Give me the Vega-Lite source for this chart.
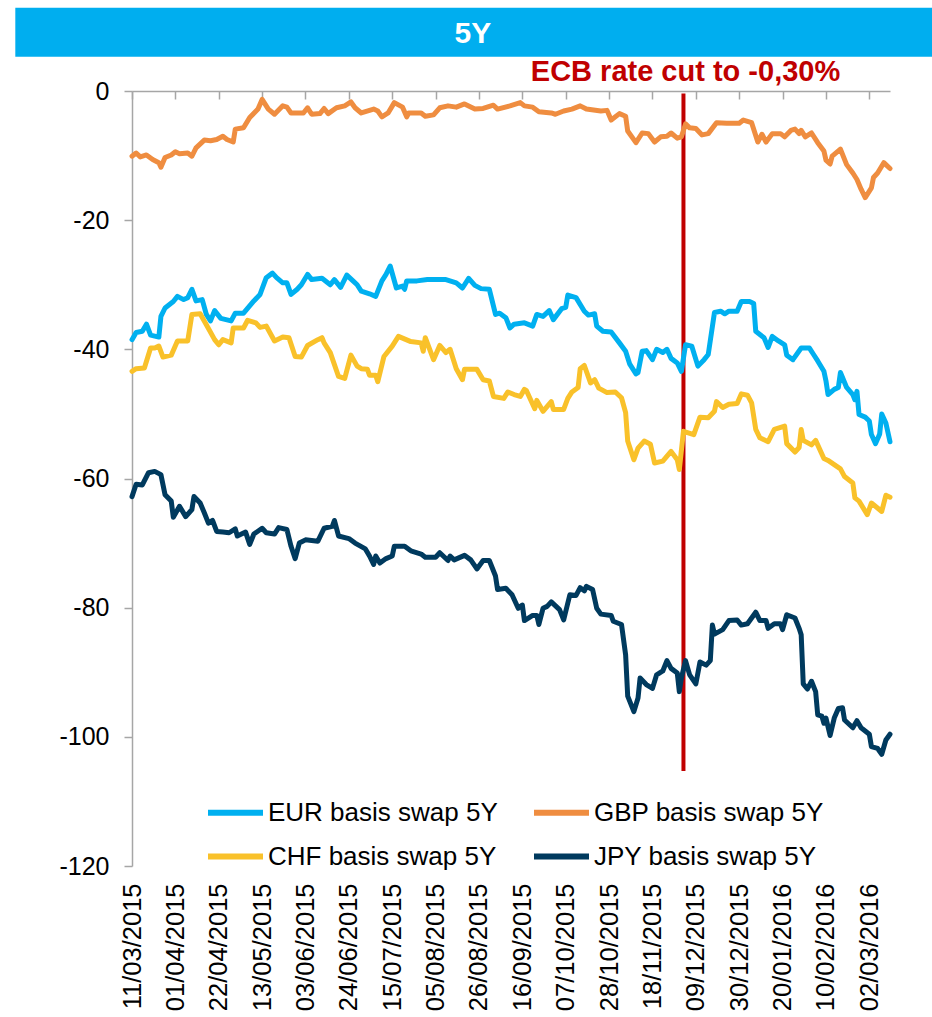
{
"$schema": "https://vega.github.io/schema/vega-lite/v6.json",
"width": 758,
"height": 775,
"padding": {"left": 15, "top": 7, "right": 0, "bottom": 0},
"background": "#ffffff",
"config": {"view": {"stroke": null}, "font": "Liberation Sans"},
"resolve": {"axis": {"x": "independent", "y": "independent"}},
"layer": [
{
"data": {"values": [{"band": "title"}]},
"mark": {"type": "rect", "color": "#00AEEF"},
"encoding": {
"x": {"datum": {"year": 2015, "month": 1, "date": 13, "hours": 12, "utc": true}, "type": "temporal", "axis": null},
"x2": {"datum": {"year": 2016, "month": 4, "date": 1, "hours": 12, "utc": true}},
"y": {"datum": 12.9, "type": "quantitative", "axis": null},
"y2": {"datum": 5.3}
}
},
{
"data": {"values": [{"label": "5Y"}]},
"mark": {"type": "text", "color": "#ffffff", "fontSize": 30, "fontWeight": "bold", "font": "Liberation Sans", "align": "center", "baseline": "middle"},
"encoding": {
"x": {"datum": {"year": 2015, "month": 8, "date": 23, "utc": true}, "type": "temporal", "axis": null},
"y": {"datum": 8.9, "type": "quantitative", "axis": null},
"text": {"field": "label"}
}
},
{
"data": {"values": [{"event": "ECB rate cut"}]},
"mark": {"type": "rule", "color": "#C00000", "strokeWidth": 4},
"encoding": {
"x": {"datum": {"year": 2015, "month": 12, "date": 3, "utc": true}, "type": "temporal",
"axis": {"orient": "top", "values": [{"year":2015,"month":3,"date":11,"utc":true},{"year":2015,"month":4,"date":1,"utc":true},{"year":2015,"month":4,"date":22,"utc":true},{"year":2015,"month":5,"date":13,"utc":true},{"year":2015,"month":6,"date":3,"utc":true},{"year":2015,"month":6,"date":24,"utc":true},{"year":2015,"month":7,"date":15,"utc":true},{"year":2015,"month":8,"date":5,"utc":true},{"year":2015,"month":8,"date":26,"utc":true},{"year":2015,"month":9,"date":16,"utc":true},{"year":2015,"month":10,"date":7,"utc":true},{"year":2015,"month":10,"date":28,"utc":true},{"year":2015,"month":11,"date":18,"utc":true},{"year":2015,"month":12,"date":9,"utc":true},{"year":2015,"month":12,"date":30,"utc":true},{"year":2016,"month":1,"date":20,"utc":true},{"year":2016,"month":2,"date":10,"utc":true},{"year":2016,"month":3,"date":2,"utc":true}],
"labels": false, "domain": true, "domainColor": "#A6A6A6", "domainWidth": 1.5, "ticks": true, "tickSize": -8, "tickColor": "#A6A6A6", "tickWidth": 1.5, "title": null, "grid": false}},
"y": {"datum": -0.4, "type": "quantitative", "axis": null},
"y2": {"datum": -105.3}
}
},
{
"data": {"values": [
{"date":"2015-03-11","series":"EUR","value":-38.5},{"date":"2015-03-13","series":"EUR","value":-37.4},{"date":"2015-03-16","series":"EUR","value":-37.2},{"date":"2015-03-18","series":"EUR","value":-36.1},{"date":"2015-03-20","series":"EUR","value":-37.8},{"date":"2015-03-24","series":"EUR","value":-38.1},{"date":"2015-03-25","series":"EUR","value":-34.9},{"date":"2015-03-27","series":"EUR","value":-33.6},{"date":"2015-03-31","series":"EUR","value":-32.6},{"date":"2015-04-02","series":"EUR","value":-31.8},{"date":"2015-04-05","series":"EUR","value":-32.3},{"date":"2015-04-07","series":"EUR","value":-32.0},{"date":"2015-04-09","series":"EUR","value":-30.7},{"date":"2015-04-11","series":"EUR","value":-32.5},{"date":"2015-04-14","series":"EUR","value":-32.3},{"date":"2015-04-16","series":"EUR","value":-34.6},{"date":"2015-04-18","series":"EUR","value":-35.6},{"date":"2015-04-20","series":"EUR","value":-34.0},{"date":"2015-04-23","series":"EUR","value":-35.2},{"date":"2015-04-28","series":"EUR","value":-35.6},{"date":"2015-04-30","series":"EUR","value":-34.4},{"date":"2015-05-04","series":"EUR","value":-34.4},{"date":"2015-05-09","series":"EUR","value":-32.5},{"date":"2015-05-12","series":"EUR","value":-31.5},{"date":"2015-05-15","series":"EUR","value":-28.9},{"date":"2015-05-18","series":"EUR","value":-28.2},{"date":"2015-05-20","series":"EUR","value":-28.9},{"date":"2015-05-23","series":"EUR","value":-29.7},{"date":"2015-05-25","series":"EUR","value":-29.7},{"date":"2015-05-27","series":"EUR","value":-31.5},{"date":"2015-05-30","series":"EUR","value":-30.7},{"date":"2015-06-01","series":"EUR","value":-30.0},{"date":"2015-06-04","series":"EUR","value":-28.4},{"date":"2015-06-06","series":"EUR","value":-29.2},{"date":"2015-06-11","series":"EUR","value":-29.0},{"date":"2015-06-15","series":"EUR","value":-30.0},{"date":"2015-06-17","series":"EUR","value":-29.2},{"date":"2015-06-20","series":"EUR","value":-30.4},{"date":"2015-06-23","series":"EUR","value":-28.5},{"date":"2015-06-26","series":"EUR","value":-29.4},{"date":"2015-06-28","series":"EUR","value":-30.0},{"date":"2015-06-30","series":"EUR","value":-31.0},{"date":"2015-07-04","series":"EUR","value":-31.4},{"date":"2015-07-07","series":"EUR","value":-31.8},{"date":"2015-07-10","series":"EUR","value":-29.4},{"date":"2015-07-12","series":"EUR","value":-28.4},{"date":"2015-07-14","series":"EUR","value":-27.1},{"date":"2015-07-17","series":"EUR","value":-30.5},{"date":"2015-07-20","series":"EUR","value":-30.2},{"date":"2015-07-21","series":"EUR","value":-30.7},{"date":"2015-07-22","series":"EUR","value":-29.4},{"date":"2015-07-27","series":"EUR","value":-29.4},{"date":"2015-08-01","series":"EUR","value":-29.2},{"date":"2015-08-10","series":"EUR","value":-29.2},{"date":"2015-08-15","series":"EUR","value":-29.7},{"date":"2015-08-18","series":"EUR","value":-30.5},{"date":"2015-08-21","series":"EUR","value":-29.0},{"date":"2015-08-24","series":"EUR","value":-30.1},{"date":"2015-08-27","series":"EUR","value":-30.6},{"date":"2015-08-31","series":"EUR","value":-30.7},{"date":"2015-09-01","series":"EUR","value":-32.0},{"date":"2015-09-03","series":"EUR","value":-34.6},{"date":"2015-09-05","series":"EUR","value":-34.4},{"date":"2015-09-08","series":"EUR","value":-35.1},{"date":"2015-09-10","series":"EUR","value":-36.7},{"date":"2015-09-12","series":"EUR","value":-36.1},{"date":"2015-09-17","series":"EUR","value":-35.9},{"date":"2015-09-21","series":"EUR","value":-36.4},{"date":"2015-09-23","series":"EUR","value":-34.6},{"date":"2015-09-26","series":"EUR","value":-34.9},{"date":"2015-09-29","series":"EUR","value":-34.0},{"date":"2015-10-01","series":"EUR","value":-35.4},{"date":"2015-10-05","series":"EUR","value":-33.7},{"date":"2015-10-07","series":"EUR","value":-33.5},{"date":"2015-10-08","series":"EUR","value":-31.6},{"date":"2015-10-12","series":"EUR","value":-32.0},{"date":"2015-10-16","series":"EUR","value":-34.1},{"date":"2015-10-18","series":"EUR","value":-34.7},{"date":"2015-10-21","series":"EUR","value":-34.5},{"date":"2015-10-22","series":"EUR","value":-36.4},{"date":"2015-10-25","series":"EUR","value":-37.2},{"date":"2015-10-29","series":"EUR","value":-37.3},{"date":"2015-11-02","series":"EUR","value":-39.0},{"date":"2015-11-05","series":"EUR","value":-40.3},{"date":"2015-11-07","series":"EUR","value":-42.3},{"date":"2015-11-10","series":"EUR","value":-43.8},{"date":"2015-11-11","series":"EUR","value":-43.6},{"date":"2015-11-13","series":"EUR","value":-40.3},{"date":"2015-11-15","series":"EUR","value":-40.2},{"date":"2015-11-18","series":"EUR","value":-41.6},{"date":"2015-11-20","series":"EUR","value":-40.0},{"date":"2015-11-23","series":"EUR","value":-40.5},{"date":"2015-11-25","series":"EUR","value":-40.0},{"date":"2015-11-27","series":"EUR","value":-41.4},{"date":"2015-11-30","series":"EUR","value":-42.1},{"date":"2015-12-02","series":"EUR","value":-43.4},{"date":"2015-12-04","series":"EUR","value":-39.3},{"date":"2015-12-07","series":"EUR","value":-39.5},{"date":"2015-12-10","series":"EUR","value":-42.6},{"date":"2015-12-13","series":"EUR","value":-41.6},{"date":"2015-12-15","series":"EUR","value":-40.8},{"date":"2015-12-18","series":"EUR","value":-34.3},{"date":"2015-12-21","series":"EUR","value":-34.1},{"date":"2015-12-23","series":"EUR","value":-34.5},{"date":"2015-12-25","series":"EUR","value":-34.1},{"date":"2015-12-29","series":"EUR","value":-34.1},{"date":"2015-12-31","series":"EUR","value":-32.6},{"date":"2016-01-04","series":"EUR","value":-32.6},{"date":"2016-01-06","series":"EUR","value":-32.9},{"date":"2016-01-07","series":"EUR","value":-37.2},{"date":"2016-01-11","series":"EUR","value":-38.2},{"date":"2016-01-13","series":"EUR","value":-39.7},{"date":"2016-01-15","series":"EUR","value":-38.0},{"date":"2016-01-18","series":"EUR","value":-38.7},{"date":"2016-01-21","series":"EUR","value":-39.3},{"date":"2016-01-22","series":"EUR","value":-40.9},{"date":"2016-01-25","series":"EUR","value":-41.6},{"date":"2016-01-29","series":"EUR","value":-39.8},{"date":"2016-02-02","series":"EUR","value":-39.8},{"date":"2016-02-04","series":"EUR","value":-40.8},{"date":"2016-02-06","series":"EUR","value":-41.8},{"date":"2016-02-09","series":"EUR","value":-43.4},{"date":"2016-02-10","series":"EUR","value":-44.9},{"date":"2016-02-11","series":"EUR","value":-47.0},{"date":"2016-02-14","series":"EUR","value":-46.2},{"date":"2016-02-16","series":"EUR","value":-45.9},{"date":"2016-02-17","series":"EUR","value":-43.6},{"date":"2016-02-20","series":"EUR","value":-45.9},{"date":"2016-02-23","series":"EUR","value":-47.0},{"date":"2016-02-24","series":"EUR","value":-47.8},{"date":"2016-02-25","series":"EUR","value":-46.5},{"date":"2016-02-26","series":"EUR","value":-50.1},{"date":"2016-02-29","series":"EUR","value":-50.5},{"date":"2016-03-02","series":"EUR","value":-51.1},{"date":"2016-03-03","series":"EUR","value":-53.2},{"date":"2016-03-05","series":"EUR","value":-54.6},{"date":"2016-03-07","series":"EUR","value":-53.1},{"date":"2016-03-08","series":"EUR","value":-50.0},{"date":"2016-03-10","series":"EUR","value":-51.4},{"date":"2016-03-12","series":"EUR","value":-54.3},
{"date":"2015-03-11","series":"GBP","value":-10.1},{"date":"2015-03-13","series":"GBP","value":-9.6},{"date":"2015-03-15","series":"GBP","value":-10.2},{"date":"2015-03-18","series":"GBP","value":-9.9},{"date":"2015-03-21","series":"GBP","value":-10.6},{"date":"2015-03-24","series":"GBP","value":-11.1},{"date":"2015-03-25","series":"GBP","value":-11.8},{"date":"2015-03-27","series":"GBP","value":-10.3},{"date":"2015-03-30","series":"GBP","value":-9.9},{"date":"2015-04-01","series":"GBP","value":-9.4},{"date":"2015-04-03","series":"GBP","value":-9.7},{"date":"2015-04-07","series":"GBP","value":-9.6},{"date":"2015-04-09","series":"GBP","value":-10.1},{"date":"2015-04-11","series":"GBP","value":-8.8},{"date":"2015-04-15","series":"GBP","value":-7.6},{"date":"2015-04-18","series":"GBP","value":-7.7},{"date":"2015-04-21","series":"GBP","value":-7.5},{"date":"2015-04-24","series":"GBP","value":-7.0},{"date":"2015-04-26","series":"GBP","value":-7.5},{"date":"2015-04-29","series":"GBP","value":-7.9},{"date":"2015-04-30","series":"GBP","value":-5.9},{"date":"2015-05-04","series":"GBP","value":-5.7},{"date":"2015-05-07","series":"GBP","value":-4.1},{"date":"2015-05-11","series":"GBP","value":-2.8},{"date":"2015-05-13","series":"GBP","value":-1.3},{"date":"2015-05-16","series":"GBP","value":-2.8},{"date":"2015-05-19","series":"GBP","value":-3.6},{"date":"2015-05-23","series":"GBP","value":-2.3},{"date":"2015-05-25","series":"GBP","value":-2.5},{"date":"2015-05-27","series":"GBP","value":-3.4},{"date":"2015-06-02","series":"GBP","value":-3.4},{"date":"2015-06-04","series":"GBP","value":-2.6},{"date":"2015-06-06","series":"GBP","value":-3.6},{"date":"2015-06-10","series":"GBP","value":-3.5},{"date":"2015-06-12","series":"GBP","value":-2.7},{"date":"2015-06-14","series":"GBP","value":-3.5},{"date":"2015-06-18","series":"GBP","value":-2.6},{"date":"2015-06-22","series":"GBP","value":-2.3},{"date":"2015-06-25","series":"GBP","value":-1.7},{"date":"2015-06-27","series":"GBP","value":-2.6},{"date":"2015-06-30","series":"GBP","value":-3.4},{"date":"2015-07-06","series":"GBP","value":-2.8},{"date":"2015-07-08","series":"GBP","value":-3.1},{"date":"2015-07-10","series":"GBP","value":-4.0},{"date":"2015-07-13","series":"GBP","value":-3.4},{"date":"2015-07-16","series":"GBP","value":-1.8},{"date":"2015-07-20","series":"GBP","value":-2.5},{"date":"2015-07-22","series":"GBP","value":-4.0},{"date":"2015-07-23","series":"GBP","value":-3.4},{"date":"2015-07-29","series":"GBP","value":-3.4},{"date":"2015-07-31","series":"GBP","value":-3.9},{"date":"2015-08-04","series":"GBP","value":-3.7},{"date":"2015-08-07","series":"GBP","value":-2.6},{"date":"2015-08-11","series":"GBP","value":-2.3},{"date":"2015-08-15","series":"GBP","value":-2.5},{"date":"2015-08-19","series":"GBP","value":-2.0},{"date":"2015-08-24","series":"GBP","value":-2.8},{"date":"2015-08-28","series":"GBP","value":-2.7},{"date":"2015-09-02","series":"GBP","value":-2.2},{"date":"2015-09-04","series":"GBP","value":-2.8},{"date":"2015-09-10","series":"GBP","value":-2.3},{"date":"2015-09-15","series":"GBP","value":-1.8},{"date":"2015-09-17","series":"GBP","value":-2.3},{"date":"2015-09-21","series":"GBP","value":-2.5},{"date":"2015-09-24","series":"GBP","value":-3.2},{"date":"2015-09-30","series":"GBP","value":-3.4},{"date":"2015-10-02","series":"GBP","value":-3.6},{"date":"2015-10-06","series":"GBP","value":-3.1},{"date":"2015-10-10","series":"GBP","value":-2.8},{"date":"2015-10-14","series":"GBP","value":-2.3},{"date":"2015-10-17","series":"GBP","value":-2.8},{"date":"2015-10-24","series":"GBP","value":-3.1},{"date":"2015-10-27","series":"GBP","value":-3.0},{"date":"2015-10-29","series":"GBP","value":-4.5},{"date":"2015-11-02","series":"GBP","value":-3.5},{"date":"2015-11-05","series":"GBP","value":-3.9},{"date":"2015-11-06","series":"GBP","value":-6.2},{"date":"2015-11-10","series":"GBP","value":-8.0},{"date":"2015-11-13","series":"GBP","value":-6.5},{"date":"2015-11-16","series":"GBP","value":-6.6},{"date":"2015-11-19","series":"GBP","value":-7.9},{"date":"2015-11-22","series":"GBP","value":-7.1},{"date":"2015-11-25","series":"GBP","value":-7.0},{"date":"2015-11-27","series":"GBP","value":-6.5},{"date":"2015-11-30","series":"GBP","value":-7.3},{"date":"2015-12-02","series":"GBP","value":-7.1},{"date":"2015-12-04","series":"GBP","value":-5.1},{"date":"2015-12-06","series":"GBP","value":-5.7},{"date":"2015-12-09","series":"GBP","value":-5.8},{"date":"2015-12-12","series":"GBP","value":-6.8},{"date":"2015-12-15","series":"GBP","value":-6.6},{"date":"2015-12-19","series":"GBP","value":-4.9},{"date":"2015-12-24","series":"GBP","value":-5.0},{"date":"2015-12-30","series":"GBP","value":-5.0},{"date":"2016-01-01","series":"GBP","value":-4.5},{"date":"2016-01-05","series":"GBP","value":-4.9},{"date":"2016-01-08","series":"GBP","value":-7.9},{"date":"2016-01-10","series":"GBP","value":-6.7},{"date":"2016-01-12","series":"GBP","value":-7.9},{"date":"2016-01-15","series":"GBP","value":-6.6},{"date":"2016-01-19","series":"GBP","value":-6.6},{"date":"2016-01-21","series":"GBP","value":-7.1},{"date":"2016-01-24","series":"GBP","value":-6.1},{"date":"2016-01-26","series":"GBP","value":-5.9},{"date":"2016-01-28","series":"GBP","value":-6.6},{"date":"2016-01-29","series":"GBP","value":-6.1},{"date":"2016-01-31","series":"GBP","value":-7.1},{"date":"2016-02-03","series":"GBP","value":-6.5},{"date":"2016-02-06","series":"GBP","value":-8.0},{"date":"2016-02-09","series":"GBP","value":-9.3},{"date":"2016-02-10","series":"GBP","value":-10.7},{"date":"2016-02-12","series":"GBP","value":-11.3},{"date":"2016-02-13","series":"GBP","value":-10.1},{"date":"2016-02-17","series":"GBP","value":-9.0},{"date":"2016-02-20","series":"GBP","value":-11.4},{"date":"2016-02-23","series":"GBP","value":-12.7},{"date":"2016-02-25","series":"GBP","value":-13.7},{"date":"2016-02-27","series":"GBP","value":-15.2},{"date":"2016-02-29","series":"GBP","value":-16.5},{"date":"2016-03-03","series":"GBP","value":-15.0},{"date":"2016-03-04","series":"GBP","value":-13.4},{"date":"2016-03-06","series":"GBP","value":-12.7},{"date":"2016-03-09","series":"GBP","value":-11.1},{"date":"2016-03-10","series":"GBP","value":-11.4},{"date":"2016-03-12","series":"GBP","value":-12.0},
{"date":"2015-03-11","series":"CHF","value":-43.4},{"date":"2015-03-13","series":"CHF","value":-43.0},{"date":"2015-03-17","series":"CHF","value":-42.9},{"date":"2015-03-20","series":"CHF","value":-39.8},{"date":"2015-03-22","series":"CHF","value":-39.8},{"date":"2015-03-24","series":"CHF","value":-39.5},{"date":"2015-03-26","series":"CHF","value":-41.2},{"date":"2015-03-30","series":"CHF","value":-40.9},{"date":"2015-04-02","series":"CHF","value":-38.7},{"date":"2015-04-07","series":"CHF","value":-38.7},{"date":"2015-04-09","series":"CHF","value":-34.6},{"date":"2015-04-13","series":"CHF","value":-34.5},{"date":"2015-04-16","series":"CHF","value":-36.2},{"date":"2015-04-20","series":"CHF","value":-38.5},{"date":"2015-04-22","series":"CHF","value":-39.3},{"date":"2015-04-24","series":"CHF","value":-38.5},{"date":"2015-04-28","series":"CHF","value":-39.0},{"date":"2015-04-29","series":"CHF","value":-36.7},{"date":"2015-05-04","series":"CHF","value":-36.7},{"date":"2015-05-06","series":"CHF","value":-35.5},{"date":"2015-05-10","series":"CHF","value":-35.9},{"date":"2015-05-12","series":"CHF","value":-36.6},{"date":"2015-05-15","series":"CHF","value":-36.4},{"date":"2015-05-19","series":"CHF","value":-38.7},{"date":"2015-05-23","series":"CHF","value":-38.1},{"date":"2015-05-26","series":"CHF","value":-38.2},{"date":"2015-05-29","series":"CHF","value":-41.1},{"date":"2015-06-01","series":"CHF","value":-41.2},{"date":"2015-06-04","series":"CHF","value":-39.4},{"date":"2015-06-09","series":"CHF","value":-38.5},{"date":"2015-06-11","series":"CHF","value":-38.2},{"date":"2015-06-12","series":"CHF","value":-39.0},{"date":"2015-06-15","series":"CHF","value":-40.5},{"date":"2015-06-19","series":"CHF","value":-44.2},{"date":"2015-06-22","series":"CHF","value":-44.5},{"date":"2015-06-25","series":"CHF","value":-40.9},{"date":"2015-06-28","series":"CHF","value":-42.6},{"date":"2015-06-30","series":"CHF","value":-43.0},{"date":"2015-07-03","series":"CHF","value":-43.1},{"date":"2015-07-04","series":"CHF","value":-44.0},{"date":"2015-07-07","series":"CHF","value":-44.0},{"date":"2015-07-08","series":"CHF","value":-45.0},{"date":"2015-07-11","series":"CHF","value":-41.1},{"date":"2015-07-15","series":"CHF","value":-39.5},{"date":"2015-07-18","series":"CHF","value":-38.0},{"date":"2015-07-24","series":"CHF","value":-38.8},{"date":"2015-07-29","series":"CHF","value":-39.0},{"date":"2015-07-30","series":"CHF","value":-40.3},{"date":"2015-07-31","series":"CHF","value":-38.2},{"date":"2015-08-04","series":"CHF","value":-41.6},{"date":"2015-08-07","series":"CHF","value":-39.4},{"date":"2015-08-10","series":"CHF","value":-40.5},{"date":"2015-08-12","series":"CHF","value":-40.0},{"date":"2015-08-15","series":"CHF","value":-43.0},{"date":"2015-08-18","series":"CHF","value":-44.7},{"date":"2015-08-19","series":"CHF","value":-43.1},{"date":"2015-08-25","series":"CHF","value":-43.1},{"date":"2015-08-28","series":"CHF","value":-44.7},{"date":"2015-08-31","series":"CHF","value":-44.9},{"date":"2015-09-02","series":"CHF","value":-47.3},{"date":"2015-09-07","series":"CHF","value":-47.6},{"date":"2015-09-09","series":"CHF","value":-46.6},{"date":"2015-09-12","series":"CHF","value":-47.0},{"date":"2015-09-15","series":"CHF","value":-47.3},{"date":"2015-09-17","series":"CHF","value":-46.2},{"date":"2015-09-18","series":"CHF","value":-46.4},{"date":"2015-09-22","series":"CHF","value":-49.2},{"date":"2015-09-23","series":"CHF","value":-47.9},{"date":"2015-09-26","series":"CHF","value":-49.6},{"date":"2015-09-30","series":"CHF","value":-48.1},{"date":"2015-10-01","series":"CHF","value":-49.3},{"date":"2015-10-06","series":"CHF","value":-49.3},{"date":"2015-10-08","series":"CHF","value":-47.6},{"date":"2015-10-10","series":"CHF","value":-46.6},{"date":"2015-10-13","series":"CHF","value":-45.9},{"date":"2015-10-14","series":"CHF","value":-43.0},{"date":"2015-10-16","series":"CHF","value":-42.5},{"date":"2015-10-19","series":"CHF","value":-45.2},{"date":"2015-10-21","series":"CHF","value":-44.7},{"date":"2015-10-23","series":"CHF","value":-46.0},{"date":"2015-10-27","series":"CHF","value":-46.7},{"date":"2015-10-31","series":"CHF","value":-46.6},{"date":"2015-11-03","series":"CHF","value":-47.5},{"date":"2015-11-05","series":"CHF","value":-49.8},{"date":"2015-11-06","series":"CHF","value":-54.2},{"date":"2015-11-09","series":"CHF","value":-57.1},{"date":"2015-11-11","series":"CHF","value":-55.3},{"date":"2015-11-14","series":"CHF","value":-54.2},{"date":"2015-11-17","series":"CHF","value":-54.7},{"date":"2015-11-19","series":"CHF","value":-57.6},{"date":"2015-11-23","series":"CHF","value":-57.3},{"date":"2015-11-27","series":"CHF","value":-55.8},{"date":"2015-11-30","series":"CHF","value":-57.1},{"date":"2015-12-01","series":"CHF","value":-58.6},{"date":"2015-12-03","series":"CHF","value":-52.7},{"date":"2015-12-08","series":"CHF","value":-53.2},{"date":"2015-12-11","series":"CHF","value":-50.5},{"date":"2015-12-15","series":"CHF","value":-50.6},{"date":"2015-12-18","series":"CHF","value":-49.6},{"date":"2015-12-19","series":"CHF","value":-48.1},{"date":"2015-12-22","series":"CHF","value":-49.0},{"date":"2015-12-25","series":"CHF","value":-48.5},{"date":"2015-12-29","series":"CHF","value":-48.4},{"date":"2015-12-31","series":"CHF","value":-46.9},{"date":"2016-01-03","series":"CHF","value":-47.1},{"date":"2016-01-05","series":"CHF","value":-48.3},{"date":"2016-01-07","series":"CHF","value":-52.4},{"date":"2016-01-09","series":"CHF","value":-53.7},{"date":"2016-01-13","series":"CHF","value":-54.3},{"date":"2016-01-16","series":"CHF","value":-52.4},{"date":"2016-01-21","series":"CHF","value":-51.9},{"date":"2016-01-22","series":"CHF","value":-54.6},{"date":"2016-01-26","series":"CHF","value":-55.9},{"date":"2016-01-28","series":"CHF","value":-55.2},{"date":"2016-01-29","series":"CHF","value":-52.4},{"date":"2016-01-30","series":"CHF","value":-54.1},{"date":"2016-02-03","series":"CHF","value":-54.8},{"date":"2016-02-05","series":"CHF","value":-54.1},{"date":"2016-02-09","series":"CHF","value":-56.9},{"date":"2016-02-11","series":"CHF","value":-57.2},{"date":"2016-02-17","series":"CHF","value":-58.5},{"date":"2016-02-19","series":"CHF","value":-59.7},{"date":"2016-02-23","series":"CHF","value":-60.7},{"date":"2016-02-24","series":"CHF","value":-63.0},{"date":"2016-02-26","series":"CHF","value":-63.5},{"date":"2016-03-01","series":"CHF","value":-65.6},{"date":"2016-03-03","series":"CHF","value":-63.8},{"date":"2016-03-08","series":"CHF","value":-65.1},{"date":"2016-03-10","series":"CHF","value":-62.6},{"date":"2016-03-12","series":"CHF","value":-62.9},
{"date":"2015-03-11","series":"JPY","value":-62.8},{"date":"2015-03-13","series":"JPY","value":-60.9},{"date":"2015-03-16","series":"JPY","value":-61.0},{"date":"2015-03-19","series":"JPY","value":-59.1},{"date":"2015-03-22","series":"JPY","value":-58.9},{"date":"2015-03-25","series":"JPY","value":-59.4},{"date":"2015-03-27","series":"JPY","value":-62.5},{"date":"2015-03-30","series":"JPY","value":-63.5},{"date":"2015-03-31","series":"JPY","value":-66.0},{"date":"2015-04-03","series":"JPY","value":-64.3},{"date":"2015-04-06","series":"JPY","value":-65.9},{"date":"2015-04-09","series":"JPY","value":-64.8},{"date":"2015-04-10","series":"JPY","value":-62.8},{"date":"2015-04-13","series":"JPY","value":-63.8},{"date":"2015-04-15","series":"JPY","value":-65.3},{"date":"2015-04-17","series":"JPY","value":-66.9},{"date":"2015-04-19","series":"JPY","value":-66.5},{"date":"2015-04-21","series":"JPY","value":-68.2},{"date":"2015-04-24","series":"JPY","value":-68.3},{"date":"2015-04-27","series":"JPY","value":-68.4},{"date":"2015-04-30","series":"JPY","value":-67.8},{"date":"2015-05-01","series":"JPY","value":-68.9},{"date":"2015-05-05","series":"JPY","value":-68.3},{"date":"2015-05-07","series":"JPY","value":-70.2},{"date":"2015-05-09","series":"JPY","value":-68.6},{"date":"2015-05-13","series":"JPY","value":-67.7},{"date":"2015-05-15","series":"JPY","value":-68.4},{"date":"2015-05-19","series":"JPY","value":-68.6},{"date":"2015-05-21","series":"JPY","value":-67.6},{"date":"2015-05-25","series":"JPY","value":-67.9},{"date":"2015-05-27","series":"JPY","value":-70.5},{"date":"2015-05-29","series":"JPY","value":-72.4},{"date":"2015-05-31","series":"JPY","value":-70.0},{"date":"2015-06-03","series":"JPY","value":-69.5},{"date":"2015-06-09","series":"JPY","value":-69.7},{"date":"2015-06-12","series":"JPY","value":-67.7},{"date":"2015-06-16","series":"JPY","value":-67.4},{"date":"2015-06-17","series":"JPY","value":-66.5},{"date":"2015-06-19","series":"JPY","value":-68.9},{"date":"2015-06-24","series":"JPY","value":-69.3},{"date":"2015-06-27","series":"JPY","value":-70.0},{"date":"2015-07-02","series":"JPY","value":-70.9},{"date":"2015-07-04","series":"JPY","value":-72.0},{"date":"2015-07-06","series":"JPY","value":-73.3},{"date":"2015-07-07","series":"JPY","value":-72.0},{"date":"2015-07-09","series":"JPY","value":-73.1},{"date":"2015-07-12","series":"JPY","value":-72.4},{"date":"2015-07-15","series":"JPY","value":-72.0},{"date":"2015-07-16","series":"JPY","value":-70.5},{"date":"2015-07-21","series":"JPY","value":-70.5},{"date":"2015-07-24","series":"JPY","value":-71.2},{"date":"2015-07-29","series":"JPY","value":-71.7},{"date":"2015-07-31","series":"JPY","value":-72.2},{"date":"2015-08-05","series":"JPY","value":-72.2},{"date":"2015-08-07","series":"JPY","value":-71.5},{"date":"2015-08-11","series":"JPY","value":-72.7},{"date":"2015-08-12","series":"JPY","value":-72.0},{"date":"2015-08-14","series":"JPY","value":-72.6},{"date":"2015-08-19","series":"JPY","value":-71.9},{"date":"2015-08-22","series":"JPY","value":-72.6},{"date":"2015-08-25","series":"JPY","value":-74.0},{"date":"2015-08-28","series":"JPY","value":-72.7},{"date":"2015-08-31","series":"JPY","value":-72.7},{"date":"2015-09-03","series":"JPY","value":-75.1},{"date":"2015-09-04","series":"JPY","value":-77.2},{"date":"2015-09-08","series":"JPY","value":-77.0},{"date":"2015-09-11","series":"JPY","value":-78.0},{"date":"2015-09-14","series":"JPY","value":-80.1},{"date":"2015-09-16","series":"JPY","value":-79.6},{"date":"2015-09-17","series":"JPY","value":-82.0},{"date":"2015-09-21","series":"JPY","value":-81.2},{"date":"2015-09-23","series":"JPY","value":-81.2},{"date":"2015-09-24","series":"JPY","value":-82.6},{"date":"2015-09-26","series":"JPY","value":-80.1},{"date":"2015-09-28","series":"JPY","value":-79.8},{"date":"2015-09-30","series":"JPY","value":-79.1},{"date":"2015-10-04","series":"JPY","value":-80.3},{"date":"2015-10-06","series":"JPY","value":-81.9},{"date":"2015-10-09","series":"JPY","value":-78.0},{"date":"2015-10-12","series":"JPY","value":-78.1},{"date":"2015-10-14","series":"JPY","value":-76.9},{"date":"2015-10-16","series":"JPY","value":-77.4},{"date":"2015-10-17","series":"JPY","value":-76.7},{"date":"2015-10-20","series":"JPY","value":-77.2},{"date":"2015-10-22","series":"JPY","value":-80.1},{"date":"2015-10-24","series":"JPY","value":-81.0},{"date":"2015-10-29","series":"JPY","value":-81.2},{"date":"2015-10-30","series":"JPY","value":-82.1},{"date":"2015-11-03","series":"JPY","value":-82.6},{"date":"2015-11-05","series":"JPY","value":-87.3},{"date":"2015-11-06","series":"JPY","value":-93.7},{"date":"2015-11-09","series":"JPY","value":-96.1},{"date":"2015-11-11","series":"JPY","value":-94.0},{"date":"2015-11-12","series":"JPY","value":-90.9},{"date":"2015-11-15","series":"JPY","value":-91.9},{"date":"2015-11-18","series":"JPY","value":-92.5},{"date":"2015-11-20","series":"JPY","value":-90.4},{"date":"2015-11-23","series":"JPY","value":-89.8},{"date":"2015-11-25","series":"JPY","value":-88.2},{"date":"2015-11-27","series":"JPY","value":-89.4},{"date":"2015-11-30","series":"JPY","value":-90.1},{"date":"2015-12-01","series":"JPY","value":-93.0},{"date":"2015-12-02","series":"JPY","value":-90.9},{"date":"2015-12-04","series":"JPY","value":-88.2},{"date":"2015-12-06","series":"JPY","value":-90.4},{"date":"2015-12-09","series":"JPY","value":-91.8},{"date":"2015-12-11","series":"JPY","value":-88.4},{"date":"2015-12-14","series":"JPY","value":-88.9},{"date":"2015-12-16","series":"JPY","value":-88.2},{"date":"2015-12-17","series":"JPY","value":-82.7},{"date":"2015-12-18","series":"JPY","value":-84.1},{"date":"2015-12-22","series":"JPY","value":-83.4},{"date":"2015-12-25","series":"JPY","value":-82.0},{"date":"2015-12-29","series":"JPY","value":-81.9},{"date":"2015-12-31","series":"JPY","value":-82.7},{"date":"2016-01-03","series":"JPY","value":-82.5},{"date":"2016-01-07","series":"JPY","value":-80.7},{"date":"2016-01-09","series":"JPY","value":-82.0},{"date":"2016-01-12","series":"JPY","value":-82.0},{"date":"2016-01-13","series":"JPY","value":-83.2},{"date":"2016-01-16","series":"JPY","value":-82.5},{"date":"2016-01-19","series":"JPY","value":-82.5},{"date":"2016-01-20","series":"JPY","value":-83.4},{"date":"2016-01-22","series":"JPY","value":-81.1},{"date":"2016-01-26","series":"JPY","value":-81.6},{"date":"2016-01-28","series":"JPY","value":-83.2},{"date":"2016-01-29","series":"JPY","value":-84.2},{"date":"2016-01-30","series":"JPY","value":-91.8},{"date":"2016-02-01","series":"JPY","value":-92.6},{"date":"2016-02-03","series":"JPY","value":-91.4},{"date":"2016-02-05","series":"JPY","value":-93.0},{"date":"2016-02-06","series":"JPY","value":-96.6},{"date":"2016-02-08","series":"JPY","value":-96.8},{"date":"2016-02-09","series":"JPY","value":-97.9},{"date":"2016-02-10","series":"JPY","value":-97.1},{"date":"2016-02-12","series":"JPY","value":-99.8},{"date":"2016-02-14","series":"JPY","value":-97.1},{"date":"2016-02-16","series":"JPY","value":-95.6},{"date":"2016-02-18","series":"JPY","value":-95.5},{"date":"2016-02-19","series":"JPY","value":-97.4},{"date":"2016-02-23","series":"JPY","value":-98.6},{"date":"2016-02-25","series":"JPY","value":-97.5},{"date":"2016-02-27","series":"JPY","value":-98.6},{"date":"2016-03-02","series":"JPY","value":-99.6},{"date":"2016-03-03","series":"JPY","value":-101.5},{"date":"2016-03-06","series":"JPY","value":-101.8},{"date":"2016-03-08","series":"JPY","value":-102.7},{"date":"2016-03-10","series":"JPY","value":-100.5},{"date":"2016-03-12","series":"JPY","value":-99.6}
]},
"mark": {"type": "line", "strokeWidth": 5, "strokeJoin": "round", "strokeCap": "round"},
"encoding": {
"x": {"field": "date", "type": "temporal",
"scale": {"type": "utc", "domain": [{"year":2015,"month":3,"date":11,"utc":true},{"year":2016,"month":3,"date":12,"utc":true}]},
"axis": {"orient": "bottom", "values": [{"year":2015,"month":3,"date":11,"utc":true},{"year":2015,"month":4,"date":1,"utc":true},{"year":2015,"month":4,"date":22,"utc":true},{"year":2015,"month":5,"date":13,"utc":true},{"year":2015,"month":6,"date":3,"utc":true},{"year":2015,"month":6,"date":24,"utc":true},{"year":2015,"month":7,"date":15,"utc":true},{"year":2015,"month":8,"date":5,"utc":true},{"year":2015,"month":8,"date":26,"utc":true},{"year":2015,"month":9,"date":16,"utc":true},{"year":2015,"month":10,"date":7,"utc":true},{"year":2015,"month":10,"date":28,"utc":true},{"year":2015,"month":11,"date":18,"utc":true},{"year":2015,"month":12,"date":9,"utc":true},{"year":2015,"month":12,"date":30,"utc":true},{"year":2016,"month":1,"date":20,"utc":true},{"year":2016,"month":2,"date":10,"utc":true},{"year":2016,"month":3,"date":2,"utc":true}],
"format": "%d/%m/%Y", "labelAngle": 270, "labelAlign": "right", "labelBaseline": "middle", "labelFontSize": 25.5, "labelFont": "Liberation Sans", "labelColor": "#000000", "labelPadding": 17, "domain": false, "ticks": false, "tickSize": 0, "grid": false, "title": null, "labelOverlap": false, "labelFlush": false, "labelBound": false}},
"y": {"field": "value", "type": "quantitative",
"scale": {"domain": [-120, 0], "nice": false, "zero": false},
"axis": {"orient": "left", "values": [-120, -100, -80, -60, -40, -20, 0], "labelExpr": "'' + datum.value", "labelFontSize": 25, "labelFont": "Liberation Sans", "labelColor": "#000000", "labelPadding": 15, "tickSize": 8, "tickColor": "#A6A6A6", "tickWidth": 1.5, "domainColor": "#A6A6A6", "domainWidth": 1.5, "grid": false, "title": null}},
"color": {"field": "series", "type": "nominal",
"scale": {"domain": ["EUR", "GBP", "CHF", "JPY"], "range": ["#00B0F0", "#EF8D40", "#F9C12A", "#003A5E"]},
"legend": {"orient": "none", "direction": "horizontal", "legendX": 73, "legendY": 691, "columns": 2, "title": null, "symbolType": "stroke", "symbolSize": 3025, "symbolStrokeWidth": 6, "labelExpr": "datum.label + ' basis swap 5Y'", "labelFont": "Liberation Sans", "labelFontSize": 26, "labelColor": "#000000", "labelOffset": 2, "columnPadding": 24, "rowPadding": -25, "padding": 0, "labelLimit": 0}}
}
},
{
"data": {"values": [{"note": "ECB rate cut to -0,30%"}]},
"mark": {"type": "text", "color": "#C00000", "fontSize": 29, "fontWeight": "bold", "font": "Liberation Sans", "align": "center", "baseline": "middle"},
"encoding": {
"x": {"datum": {"year": 2015, "month": 12, "date": 4, "utc": true}, "type": "temporal", "axis": null},
"y": {"datum": 3.0, "type": "quantitative", "axis": null},
"text": {"field": "note"}
}
}
]
}
